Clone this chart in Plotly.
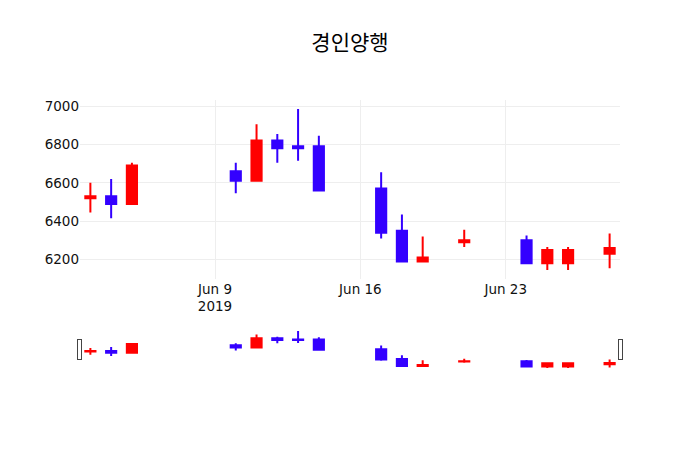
import plotly.graph_objects as go

# daily OHLC
dates = ['2019-06-03', '2019-06-04', '2019-06-05',
         '2019-06-10', '2019-06-11', '2019-06-12', '2019-06-13', '2019-06-14',
         '2019-06-17', '2019-06-18', '2019-06-19', '2019-06-21',
         '2019-06-24', '2019-06-25', '2019-06-26', '2019-06-28']
open_ = [6520, 6530, 6490, 6660, 6610, 6820, 6790, 6790,
         6570, 6350, 6190, 6290, 6300, 6180, 6180, 6230]
high = [6600, 6620, 6705, 6705, 6905, 6855, 6985, 6845,
        6655, 6435, 6320, 6355, 6325, 6265, 6265, 6335]
low = [6445, 6415, 6490, 6545, 6610, 6705, 6715, 6555,
       6310, 6185, 6190, 6265, 6178, 6145, 6145, 6155]
close = [6530, 6490, 6690, 6610, 6820, 6780, 6780, 6560,
         6340, 6190, 6210, 6300, 6180, 6250, 6250, 6260]

fig = go.Figure(go.Candlestick(
    x=dates, open=open_, high=high, low=low, close=close,
    increasing=dict(line=dict(color='#ff0000'), fillcolor='#ff0000'),
    decreasing=dict(line=dict(color='#3300ff'), fillcolor='#3300ff'),
))

# the page body adds an 8px offset, so the figure is 8px smaller
# and the left/top margins are 8px tighter
fig.update_layout(
    title=dict(text='경인양행', x=(350 - 8) / 692, xanchor='center',
               y=1 - 34.5 / 442, yanchor='middle',
               font=dict(family='Noto Sans CJK KR', size=21, color='black')),
    font=dict(family='Verdana, DejaVu Sans', size=13.5, color='#111111'),
    width=692, height=442,
    margin=dict(l=72, r=80, t=92, b=80),
    plot_bgcolor='white',
    xaxis=dict(gridcolor='#eeeeee', rangeslider=dict(visible=True)),
    yaxis=dict(gridcolor='#eeeeee'),
)

fig.write_html("out.html")
